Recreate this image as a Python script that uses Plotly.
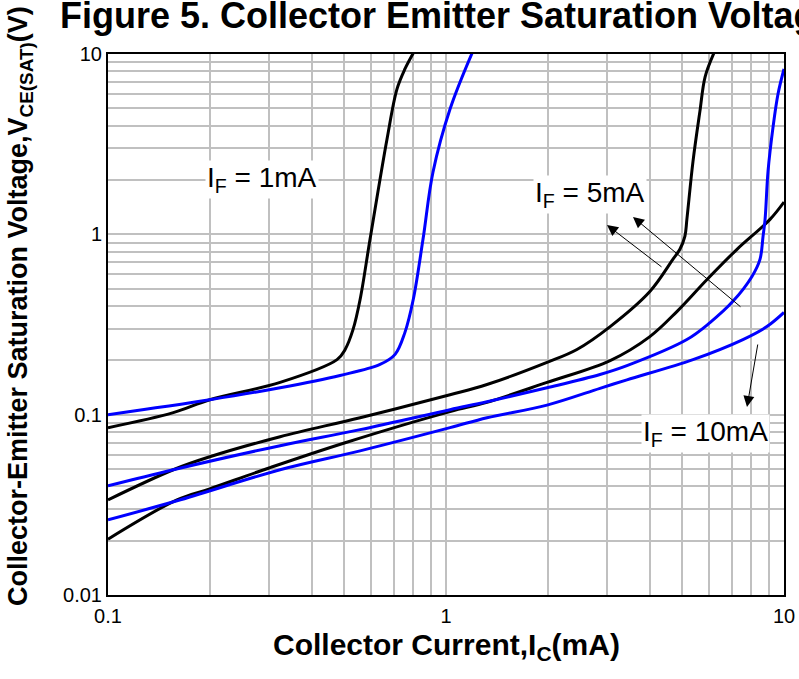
import plotly.graph_objects as go

# ---- data ----
ic_k1 = [0.1, 0.156, 0.2, 0.323, 0.476, 0.503, 0.531, 0.557, 0.596, 0.669, 0.716, 0.756, 0.80]
v_k1 = [0.0847, 0.1026, 0.121, 0.151, 0.202, 0.23, 0.297, 0.435, 0.938, 3.37, 6.39, 8.26, 10.1]

ic_b1 = [0.1, 0.2, 0.323, 0.486, 0.638, 0.707, 0.756, 0.80, 0.855, 0.915, 1.028, 1.194]
v_b1 = [0.1, 0.121, 0.141, 0.165, 0.19, 0.216, 0.286, 0.435, 0.938, 2.21, 4.95, 10.1]

ic_k5 = [0.1, 0.156, 0.2, 0.323, 0.557, 1.028, 1.322, 1.99, 2.44, 3.06, 4.01, 4.69, 4.92, 5.09, 5.16, 5.38, 5.64, 5.84, 6.2]
v_k5 = [0.0337, 0.0495, 0.0584, 0.0755, 0.0962, 0.129, 0.147, 0.195, 0.23, 0.308, 0.482, 0.726, 0.826, 0.975, 1.21, 2.54, 4.82, 7.45, 10.1]

ic_k10 = [0.1, 0.16, 0.2, 0.301, 0.503, 1.028, 1.322, 1.99, 3.06, 4.01, 4.82, 5.92, 7.26, 9.09, 10.0]
v_k10 = [0.0204, 0.0337, 0.0388, 0.0508, 0.0699, 0.104, 0.117, 0.151, 0.1995, 0.271, 0.373, 0.562, 0.826, 1.21, 1.51]

ic_b5 = [0.1, 0.156, 0.323, 0.557, 1.028, 1.322, 1.99, 2.855, 3.43, 5.16, 6.04, 7.06, 8.04, 8.49, 8.67, 8.79, 8.97, 9.28, 9.6, 10.0]
v_b5 = [0.0403, 0.0495, 0.0673, 0.0826, 0.1066, 0.118, 0.141, 0.167, 0.187, 0.261, 0.324, 0.425, 0.584, 0.726, 0.975, 1.21, 2.24, 3.93, 6.0, 8.26]

ic_b10 = [0.1, 0.16, 0.323, 0.557, 1.028, 1.322, 1.99, 2.855, 3.43, 5.38, 7.56, 8.9, 10.0]
v_b10 = [0.0261, 0.0333, 0.0495, 0.063, 0.0847, 0.0962, 0.113, 0.14, 0.156, 0.202, 0.261, 0.308, 0.369]

x_tick_vals = [0.1, 1, 10]
x_tick_text = ["0.1", "1", "10"]
y_tick_vals = [0.01, 0.1, 1, 10]
y_tick_text = ["0.01", "0.1", "1", "10"]

title_text = "<b>Figure 5. Collector Emitter Saturation Voltage vs. Collector Current</b>"
x_title = "<b>Collector Current,I<sub>C</sub>(mA)</b>"
y_title = "<b>Collector-Emitter Saturation Voltage,V<sub>CE(SAT)</sub>(V)</b>"


def grid_vals(lo_exp, hi_exp):
    vals = []
    for e in range(lo_exp, hi_exp):
        for m in range(1, 10):
            vals.append(m * 10 ** e)
    vals.append(10 ** hi_exp)
    return vals


def labels_for(vals, major_vals, major_text):
    out = []
    for v in vals:
        lab = ""
        for mv, mt in zip(major_vals, major_text):
            if abs(v - mv) / mv < 1e-9:
                lab = mt
        out.append(lab)
    return out


xg = grid_vals(-1, 1)
yg = grid_vals(-2, 1)

fig = go.Figure()
series = [
    (ic_k1, v_k1, "black"),
    (ic_b1, v_b1, "#0000ff"),
    (ic_k5, v_k5, "black"),
    (ic_k10, v_k10, "black"),
    (ic_b5, v_b5, "#0000ff"),
    (ic_b10, v_b10, "#0000ff"),
]
for xs, ys, col in series:
    fig.add_trace(go.Scatter(x=xs, y=ys, mode="lines",
                             line=dict(color=col, width=3, shape="spline", smoothing=1.0),
                             showlegend=False, hoverinfo="skip"))

axis_common = dict(type="log", showgrid=True, gridcolor="#c0c0c0", gridwidth=1.5,
                   showline=True, linecolor="black", linewidth=2, mirror=True,
                   ticks="", zeroline=False, automargin=False,
                   tickfont=dict(family="Arial", size=20, color="black"))

fig.update_xaxes(range=[-1, 1], tickvals=xg, ticktext=labels_for(xg, x_tick_vals, x_tick_text),
                 ticklabelstandoff=2, **axis_common)
fig.update_yaxes(range=[-2, 1], tickvals=yg, ticktext=labels_for(yg, y_tick_vals, y_tick_text),
                 **axis_common)

ann_font = dict(family="Arial", size=28, color="black")
arrow_style = dict(showarrow=True, arrowhead=2, arrowsize=2.2, arrowwidth=1, arrowcolor="black")
annotations = [
    dict(text="I<sub>F</sub> = 1mA", xref="paper", yref="paper",
         x=(262 - 108) / 676, y=(595 - 180) / 541, showarrow=False,
         font=ann_font, bgcolor="white", xanchor="center", yanchor="middle"),
    dict(text="I<sub>F</sub> = 5mA", xref="paper", yref="paper",
         x=(590 - 108) / 676, y=(595 - 195) / 541, showarrow=False,
         font=ann_font, bgcolor="white", xanchor="center", yanchor="middle"),
    dict(text="I<sub>F</sub> = 10mA", xref="paper", yref="paper",
         x=(705 - 108) / 676, y=(595 - 433) / 541, showarrow=False,
         font=ann_font, bgcolor="white", xanchor="center", yanchor="middle"),
    dict(text="", xref="paper", yref="paper", x=(633 - 108) / 676, y=(595 - 217) / 541,
         ax=109, ay=91, **arrow_style),
    dict(text="", xref="paper", yref="paper", x=(607 - 108) / 676, y=(595 - 225) / 541,
         ax=56, ay=43, **arrow_style),
    dict(text="", xref="paper", yref="paper", x=(747 - 108) / 676, y=(595 - 407) / 541,
         ax=11, ay=-64, **arrow_style),
    dict(text=y_title, xref="paper", yref="paper", x=(20 - 108) / 676, y=(595 - 306) / 541,
         textangle=-90, showarrow=False, xanchor="center", yanchor="middle",
         font=dict(family="Arial", size=27, color="black")),
    dict(text=x_title, xref="paper", yref="paper", x=0.5, y=(595 - 646) / 541,
         showarrow=False, xanchor="center", yanchor="middle",
         font=dict(family="Arial", size=30, color="black")),
]

fig.update_layout(
    width=799, height=679,
    margin=dict(l=108, r=15, t=54, b=84),
    paper_bgcolor="white", plot_bgcolor="white",
    title=dict(text=title_text, x=60 / 799, xanchor="left", xref="container",
               y=1 - 15 / 679, yanchor="middle", yref="container",
               font=dict(family="Arial", size=36, color="black")),
    annotations=annotations,
    showlegend=False,
)

fig.write_html("out.html")
